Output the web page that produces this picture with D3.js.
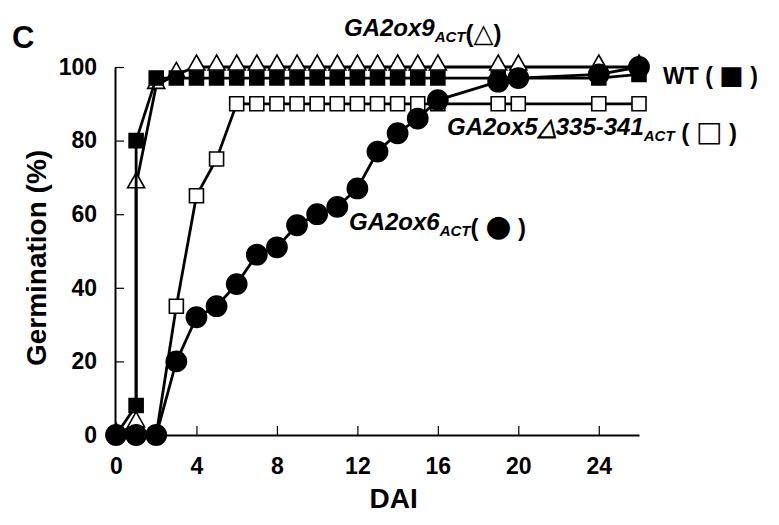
<!DOCTYPE html>
<html>
<head>
<meta charset="utf-8">
<script src="https://cdn.jsdelivr.net/npm/d3@7"></script>
<style>
body { margin: 0; background: #fff; }
text { font-family: "Liberation Sans", Arial, sans-serif; font-weight: bold; fill: #000; }
</style>
</head>
<body>
<svg id="chart" width="779" height="525"></svg>
<script>
// sampling days (DAI); WT and GA2ox9 have two readings at day 1
var days = [0, 1, 2, 3, 4, 5, 6, 7, 8, 9, 10, 11, 12, 13, 14, 15, 16, 19, 20, 24, 26];
var dayOneTwice = [0, 1, 1, 2, 3, 4, 5, 6, 7, 8, 9, 10, 11, 12, 13, 14, 15, 16, 19, 20, 24, 26];

var wtValues = [0, 8, 80, 97, 97, 97, 97, 97, 97, 97, 97, 97, 97, 97, 97, 97, 97, 97, 97, 97, 97, 98];
var ga2ox9Values = [0, 3, 68, 95, 98, 100, 100, 100, 100, 100, 100, 100, 100, 100, 100, 100, 100, 100, 100, 100, 100, 100];
var ga2ox5Values = [0, 0, 0, 35, 65, 75, 90, 90, 90, 90, 90, 90, 90, 90, 90, 90, 90, 90, 90, 90, 90];
var ga2ox6Values = [0, 0, 0, 20, 32, 35, 41, 49, 51, 57, 60, 62, 67, 77, 82, 86, 91, 96, 97, 98, 100];

var xTicks = [0, 4, 8, 12, 16, 20, 24];
var yTicks = [0, 20, 40, 60, 80, 100];

var svg = d3.select("#chart");
var x = d3.scaleLinear().domain([0, 26]).range([116, 639]);
var y = d3.scaleLinear().domain([0, 100]).range([435, 67]);

function pairs(xs, ys) {
    return xs.map(function(d, i) { return [d, ys[i]]; });
}

var line = d3.line()
    .x(function(d) { return x(d[0]); })
    .y(function(d) { return y(d[1]); });

var triangle = "M0,-12L8.5,3L-8.5,3Z";
var square = d3.symbol().type(d3.symbolSquare).size(196)();
var circle = d3.symbol().type(d3.symbolCircle).size(320)();

// axes, ticks point inward
var xAxis = svg.append("g")
    .attr("transform", "translate(0," + y(0) + ")")
    .call(d3.axisBottom(x).tickValues(xTicks).tickSizeInner(-9).tickSizeOuter(0).tickPadding(23));
var yAxis = svg.append("g")
    .attr("transform", "translate(" + (x(0) - 1) + ",0)")
    .call(d3.axisLeft(y).tickValues(yTicks).tickSizeInner(-9).tickSizeOuter(0).tickPadding(18));

[xAxis, yAxis].forEach(function(a) {
    a.select(".domain").attr("stroke", "#000").attr("stroke-width", 2);
    a.selectAll(".tick line").attr("stroke", "#000").attr("stroke-width", 1.2);
    a.selectAll(".tick text").attr("font-size", 23).attr("fill", "#000");
});
xAxis.selectAll(".tick").filter(function(d) { return d === 0; }).select("line").remove();

var series = [
    {pts: pairs(days, ga2ox5Values), shape: square, fill: "#fff"},
    {pts: pairs(dayOneTwice, ga2ox9Values), shape: triangle, fill: "#fff"},
    {pts: pairs(dayOneTwice, wtValues), shape: square, fill: "#000"},
    {pts: pairs(days, ga2ox6Values), shape: circle, fill: "#000"}
];

series.forEach(function(s) {
    svg.append("path")
        .attr("d", line(s.pts))
        .attr("fill", "none")
        .attr("stroke", "#000")
        .attr("stroke-width", 2.8);
    svg.append("g").selectAll("path")
        .data(s.pts)
        .enter().append("path")
        .attr("d", s.shape)
        .attr("transform", function(d) { return "translate(" + x(d[0]) + "," + y(d[1]) + ")"; })
        .attr("fill", s.fill)
        .attr("stroke", "#000")
        .attr("stroke-width", 1.6);
});

// titles and labels
svg.append("text").attr("x", 12).attr("y", 48).attr("font-size", 31).text("C");

svg.append("text")
    .attr("transform", "translate(46,258) rotate(-90)")
    .attr("text-anchor", "middle")
    .attr("font-size", 28)
    .text("Germination (%)");

svg.append("text")
    .attr("x", x(13.8)).attr("y", 508)
    .attr("text-anchor", "middle")
    .attr("font-size", 28)
    .text("DAI");

function glyph(t, before, ch, size, after) {
    t.append("tspan").text(before);
    t.append("tspan").attr("font-family", "DejaVu Sans").attr("font-weight", "normal")
        .attr("font-size", size).text(ch);
    t.append("tspan").text(after);
}

function label(px, py, name, before, ch, size, after) {
    var t = svg.append("text").attr("x", px).attr("y", py).attr("font-size", 24);
    t.append("tspan").attr("font-style", "italic").text(name);
    t.append("tspan").attr("font-style", "italic").attr("font-size", 15).attr("dy", 6).text("ACT");
    t.append("tspan").attr("dy", -6).text("");
    glyph(t, before, ch, size, after);
}

label(344, 36, "GA2ox9", "(", "\u25B3", 26, ")");
label(447, 135, "GA2ox5\u25B3335-341", " ( ", "\u25A1", 28, " )");
label(349, 230, "GA2ox6", "( ", "\u25CF", 30, " )");

var wt = svg.append("text").attr("x", 663).attr("y", 84).attr("font-size", 23);
glyph(wt, "WT ( ", "\u25A0", 26, " )");
</script>
</body>
</html>
